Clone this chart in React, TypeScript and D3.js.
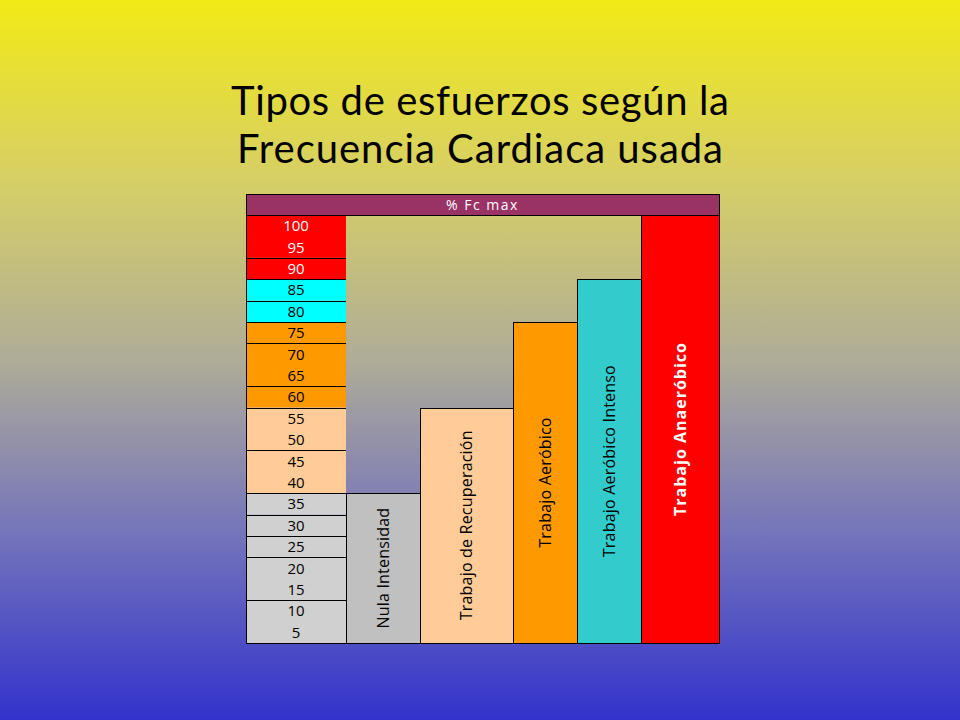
import React, { useEffect, useRef } from 'react';
import * as d3 from 'd3';

// % Fc max scale (left column)
const pctValues = [100, 95, 90, 85, 80, 75, 70, 65, 60, 55, 50, 45, 40, 35, 30, 25, 20, 15, 10, 5];
// cells of the left column, grouped as in the original table
const pctCells = [[100, 95], [90], [85], [80], [75], [70, 65], [60], [55, 50], [45, 40], [35], [30], [25], [20, 15], [10, 5]];
// zones: lower bound of each colour band
const zoneMins = [90, 80, 60, 40, 5];
const zoneColors = ['#FF0000', '#00FFFF', '#FF9900', '#FFCC99', '#D0D0D0'];
const zoneText = ['#FFFFFF', '#000000', '#000000', '#000000', '#000000'];

// effort types
const barLabels = ['Nula Intensidad', 'Trabajo de Recuperación', 'Trabajo Aeróbico', 'Trabajo Aeróbico Intenso', 'Trabajo Anaeróbico'];
const barTops = [35, 55, 75, 85, 100];
const barColors = ['#C0C0C0', '#FFCC99', '#FF9900', '#33CCCC', '#FF0000'];
const barTextColors = ['#000000', '#000000', '#000000', '#000000', '#FFFFFF'];
const barWeights = [74, 93, 64, 64, 78];

const titleLines = ['Tipos de esfuerzos según la', 'Frecuencia Cardiaca usada'];
const headerLabel = '% Fc max';

export default function App() {
  const chartRef = useRef<HTMLDivElement>(null);

  useEffect(() => {
    if (chartRef.current) {
      d3.select(chartRef.current).selectAll('*').remove();
    }

    const width = 960;
    const height = 720;
    const table = { left: 246, right: 719, top: 194, header: 215, bottom: 643 };
    const colRight = 346;
    const font = "'Open Sans', 'DejaVu Sans', sans-serif";

    const svg = d3
      .select(chartRef.current)
      .append('svg')
      .attr('width', width)
      .attr('height', height)
      .attr('viewBox', [0, 0, width, height])
      .style('position', 'absolute')
      .style('left', '0px')
      .style('top', '0px');

    // background gradient
    const bg = svg
      .append('defs')
      .append('linearGradient')
      .attr('id', 'bg-grad')
      .attr('x1', 0)
      .attr('y1', 0)
      .attr('x2', 0)
      .attr('y2', 1);
    bg.append('stop').attr('offset', '0%').attr('stop-color', '#F2EA16');
    bg.append('stop').attr('offset', '25%').attr('stop-color', '#D6CF66');
    bg.append('stop').attr('offset', '50%').attr('stop-color', '#AFAC98');
    bg.append('stop').attr('offset', '75%').attr('stop-color', '#7272BC');
    bg.append('stop').attr('offset', '100%').attr('stop-color', '#3232CC');

    svg.append('rect').attr('width', width).attr('height', height).attr('fill', 'url(#bg-grad)');

    // title
    const titleWidths = [498, 486];
    svg
      .append('g')
      .selectAll('text')
      .data(titleLines)
      .join('text')
      .attr('x', 480)
      .attr('y', (_, i) => 115 + i * 48)
      .attr('text-anchor', 'middle')
      .attr('font-family', "Lato, 'Open Sans', sans-serif")
      .attr('font-size', 40)
      .attr('textLength', (_, i) => titleWidths[i])
      .attr('lengthAdjust', 'spacing')
      .attr('fill', '#000')
      .text((d) => d);

    // scales
    const y = d3
      .scaleLinear()
      .domain([102.5, 2.5])
      .range([table.header, table.bottom]);

    const zoneOf = (v: number) => zoneMins.findIndex((m) => v >= m);

    const cum = [0, ...d3.cumsum(barWeights)];
    const x = d3
      .scaleLinear()
      .domain([0, d3.sum(barWeights)])
      .range([colRight, table.right]);

    // left column cells
    svg
      .append('g')
      .selectAll('rect')
      .data(pctCells)
      .join('rect')
      .attr('x', table.left)
      .attr('width', colRight - table.left)
      .attr('y', (d) => y(d[0] + 2.5))
      .attr('height', (d) => y(d[d.length - 1] - 2.5) - y(d[0] + 2.5))
      .attr('fill', (d) => zoneColors[zoneOf(d[0])]);

    svg
      .append('g')
      .selectAll('line')
      .data(pctCells.slice(1))
      .join('line')
      .attr('x1', table.left)
      .attr('x2', colRight)
      .attr('y1', (d) => Math.round(y(d[0] + 2.5)) + 0.5)
      .attr('y2', (d) => Math.round(y(d[0] + 2.5)) + 0.5)
      .attr('stroke', '#000')
      .attr('stroke-width', 1);

    svg
      .append('g')
      .selectAll('text')
      .data(pctValues)
      .join('text')
      .attr('x', (table.left + colRight) / 2)
      .attr('y', (d) => y(d) + 5.5)
      .attr('text-anchor', 'middle')
      .attr('font-family', font)
      .attr('font-size', 15)
      .attr('fill', (d) => zoneText[zoneOf(d)])
      .text((d) => d);

    // bars
    const bars = svg
      .append('g')
      .selectAll('g')
      .data(barLabels.map((label, i) => ({ label, i })))
      .join('g');

    bars
      .append('rect')
      .attr('x', (d) => Math.round(x(cum[d.i])) + 0.5)
      .attr('y', (d) => Math.round(y(barTops[d.i] + 2.5)) + 0.5)
      .attr('width', (d) => Math.round(x(cum[d.i + 1])) - Math.round(x(cum[d.i])))
      .attr('height', (d) => Math.round(table.bottom) - Math.round(y(barTops[d.i] + 2.5)))
      .attr('fill', (d) => barColors[d.i])
      .attr('stroke', '#000')
      .attr('stroke-width', 1);

    bars
      .append('text')
      .attr('transform', (d) => {
        const cx = (x(cum[d.i]) + x(cum[d.i + 1])) / 2 + 5.5;
        const cy = (y(barTops[d.i] + 2.5) + table.bottom) / 2;
        return `translate(${cx},${cy}) rotate(-90)`;
      })
      .attr('text-anchor', 'middle')
      .attr('font-family', font)
      .attr('font-size', 16)
      .attr('font-weight', (d) => (d.i === 4 ? 'bold' : 'normal'))
      .attr('letter-spacing', (d) => (d.i === 4 ? 1 : 0.2))
      .attr('fill', (d) => barTextColors[d.i])
      .text((d) => d.label);

    // header band
    svg
      .append('rect')
      .attr('x', table.left + 0.5)
      .attr('y', table.top + 0.5)
      .attr('width', table.right - table.left)
      .attr('height', table.header - table.top)
      .attr('fill', '#993366')
      .attr('stroke', '#000')
      .attr('stroke-width', 1);

    svg
      .append('text')
      .attr('x', (table.left + table.right) / 2)
      .attr('y', table.top + 16)
      .attr('text-anchor', 'middle')
      .attr('font-family', font)
      .attr('font-size', 14)
      .attr('letter-spacing', 1.5)
      .attr('fill', '#FFFFFF')
      .text(headerLabel);

    // outer frame
    svg
      .append('rect')
      .attr('x', table.left + 0.5)
      .attr('y', table.top + 0.5)
      .attr('width', table.right - table.left)
      .attr('height', table.bottom - table.top)
      .attr('fill', 'none')
      .attr('stroke', '#000')
      .attr('stroke-width', 1);
  }, []);

  return <div ref={chartRef}></div>;
}
